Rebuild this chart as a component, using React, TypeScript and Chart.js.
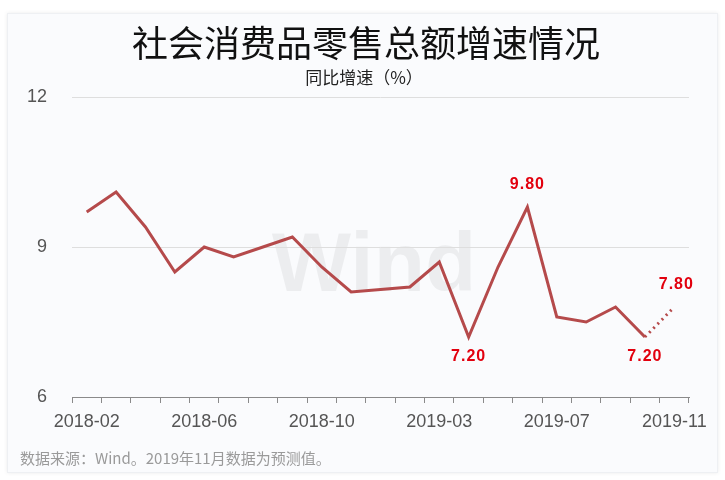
import React, { useEffect, useRef } from "react";
import { Chart, registerables } from "chart.js";

Chart.register(...registerables);

const categories = [
  "2018-02", "2018-03", "2018-04", "2018-05", "2018-06", "2018-07", "2018-08",
  "2018-09", "2018-10", "2018-11", "2018-12", "2019-02", "2019-03", "2019-04",
  "2019-05", "2019-06", "2019-07", "2019-08", "2019-09", "2019-10", "2019-11",
];
const growth = [
  9.7, 10.1, 9.4, 8.5, 9.0, 8.8, 9.0, 9.2, 8.6, 8.1, 8.15, 8.2, 8.7, 7.2,
  8.6, 9.8, 7.6, 7.5, 7.8, 7.2, 7.8,
];
const yTicks = [6, 9, 12];
// index of labelled points and where the label goes
const labelIndex = [13, 15, 19, 20];
const labelPlace = ["below", "above", "below", "above"];

const TITLE = "社会消费品零售总额增速情况";
const SUBTITLE = "同比增速（%）";
const FOOTER = "数据来源：Wind。2019年11月数据为预测值。";
const WATERMARK = "Wind";

const LINE = "#b54a4b";
const CJK = '"Noto Sans CJK SC", "Noto Sans", sans-serif';
const LAT = '"Liberation Sans", Arial, sans-serif';

const decorPlugin = {
  id: "decor",
  beforeDraw(chart: any) {
    const ctx = chart.ctx;
    ctx.save();
    ctx.fillStyle = "#ffffff";
    ctx.fillRect(0, 0, chart.width, chart.height);
    ctx.shadowColor = "rgba(0,0,0,0.08)";
    ctx.shadowBlur = 4;
    ctx.fillStyle = "#fafbfd";
    ctx.fillRect(7, 13, 711, 460);
    ctx.shadowBlur = 0;
    ctx.shadowColor = "transparent";
    ctx.strokeStyle = "#eef0f3";
    ctx.lineWidth = 1;
    ctx.strokeRect(7.5, 13.5, 710, 459);

    // title
    ctx.fillStyle = "#111111";
    ctx.textAlign = "center";
    ctx.textBaseline = "middle";
    ctx.font = `36px ${CJK}`;
    ctx.fillText(TITLE, 366, 43);
    ctx.font = `17px ${CJK}`;
    ctx.fillStyle = "#222222";
    ctx.fillText(SUBTITLE, 364, 78);

    // footer
    ctx.textAlign = "left";
    ctx.font = `15px ${CJK}`;
    ctx.fillStyle = "#9a9a9a";
    ctx.fillText(FOOTER, 20, 458);

    // watermark
    ctx.textAlign = "center";
    ctx.textBaseline = "alphabetic";
    ctx.font = `bold 84px ${LAT}`;
    ctx.fillStyle = "rgba(0,0,0,0.055)";
    ctx.fillText(WATERMARK, 374, 291);
    ctx.restore();
  },
  afterDatasetsDraw(chart: any) {
    const ctx = chart.ctx;
    const meta = chart.getDatasetMeta(0);
    ctx.save();
    ctx.font = `bold 16px ${LAT}`;
    (ctx as any).letterSpacing = "1px";
    ctx.fillStyle = "#e2000e";
    ctx.textAlign = "center";
    ctx.textBaseline = "middle";
    labelIndex.forEach((idx, k) => {
      const pt = meta.data[idx];
      const v = growth[idx];
      const dy = labelPlace[k] === "above" ? -22 : 20;
      const dx = idx === growth.length - 1 ? 2 : 0;
      ctx.fillText(v.toFixed(2), pt.x + dx, pt.y + dy);
    });
    ctx.restore();
  },
};

export default function App() {
  const ref = useRef<HTMLCanvasElement | null>(null);
  useEffect(() => {
    if (!ref.current) return;
    const last = growth.length - 1;
    const chart = new Chart(ref.current, {
      type: "line",
      data: {
        labels: categories,
        datasets: [
          {
            data: growth,
            borderColor: LINE,
            borderWidth: 3,
            pointRadius: 0,
            tension: 0,
            fill: false,
            segment: {
              borderDash: (c: any) => (c.p1DataIndex === last ? [2, 4] : undefined),
            },
          },
        ],
      },
      options: {
        responsive: false,
        animation: false,
        events: [],
        layout: { padding: { top: 97, right: 36, bottom: 0, left: 0 } },
        plugins: {
          legend: { display: false },
          title: { display: false },
          tooltip: { enabled: false },
        },
        scales: {
          x: {
            offset: true,
            grid: {
              offset: true,
              drawOnChartArea: false,
              drawTicks: true,
              tickLength: 6,
              color: "#8a8a8a",
            },
            border: { display: true, color: "#8a8a8a", width: 1 },
            ticks: {
              autoSkip: false,
              maxRotation: 0,
              minRotation: 0,
              padding: 8,
              color: "#555555",
              font: { family: LAT, size: 18 },
              callback: (_v: any, i: number) => (i % 4 === 0 ? categories[i] : ""),
            },
            afterFit: (s: any) => {
              s.height = 83;
            },
          },
          y: {
            min: 6,
            max: 12,
            afterBuildTicks: (s: any) => {
              s.ticks = yTicks.map((v) => ({ value: v }));
            },
            grid: { color: "#dedede", drawTicks: false, lineWidth: 1 },
            border: { display: false },
            ticks: {
              padding: 25,
              color: "#555555",
              font: { family: LAT, size: 18 },
            },
            afterFit: (s: any) => {
              s.width = 72;
            },
          },
        },
      },
      plugins: [decorPlugin],
    } as any);
    return () => chart.destroy();
  }, []);
  return (
    <div style={{ position: "absolute", left: 0, top: 0, width: 725, height: 480 }}>
      <canvas ref={ref} width={725} height={480} style={{ display: "block" }} />
    </div>
  );
}
